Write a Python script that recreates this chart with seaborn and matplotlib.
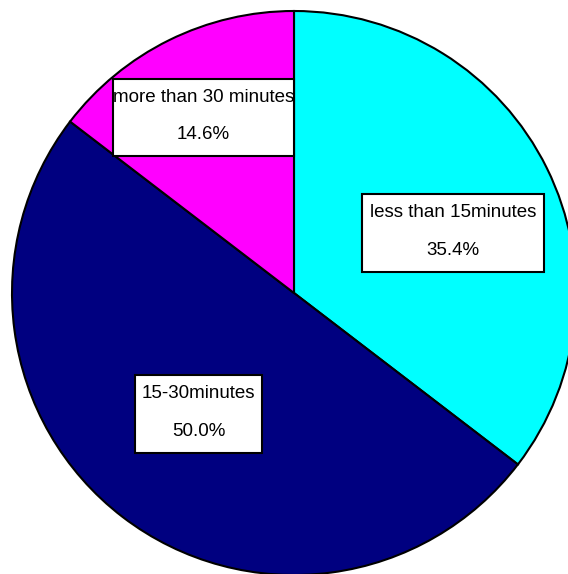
import matplotlib
matplotlib.use("Agg")
import matplotlib.pyplot as plt
from matplotlib.patches import Rectangle
import seaborn as sns

# Commute time shares
categories = ["less than 15minutes", "15-30minutes", "more than 30 minutes"]
shares = [35.4, 50.0, 14.6]
colors = ["#00FFFF", "#000080", "#FF00FF"]

# Label boxes in figure pixels (left, top, width, height)
label_boxes = [
    (362, 194, 182, 78),
    (135, 375, 127, 78),
    (113, 79, 181, 77),
]

sns.set_theme(style="white")
plt.rcParams["font.family"] = ["Liberation Sans", "DejaVu Sans"]

W, H = 568, 574
fig = plt.figure(figsize=(W / 100, H / 100), dpi=100)
ax = fig.add_axes([0, 0, 1, 1])

cx, cy, r = 294, 293, 282
ax.pie(
    shares,
    colors=colors,
    startangle=90,
    counterclock=False,
    radius=1.0,
    wedgeprops=dict(edgecolor="black", linewidth=1.5),
)
ax.set_aspect("auto")
ax.set_xlim(-cx / r, (W - cx) / r)
ax.set_ylim(-(H - cy) / r, cy / r)
ax.axis("off")

for cat, val, (x0, y0, w, h) in zip(categories, shares, label_boxes):
    rect = Rectangle(
        (x0 / W, 1 - (y0 + h) / H), w / W, h / H,
        transform=fig.transFigure, facecolor="white", edgecolor="black",
        linewidth=1.5, zorder=5,
    )
    fig.patches.append(rect)
    xc = (x0 + w / 2) / W
    fig.text(xc, 1 - (y0 + h * 0.24) / H, cat, ha="center", va="center",
             fontsize=13.5, color="black", zorder=6)
    fig.text(xc, 1 - (y0 + h * 0.72) / H, f"{val:.1f}%", ha="center",
             va="center", fontsize=13.5, color="black", zorder=6)

fig.savefig("out.png", dpi=100, facecolor="white")
